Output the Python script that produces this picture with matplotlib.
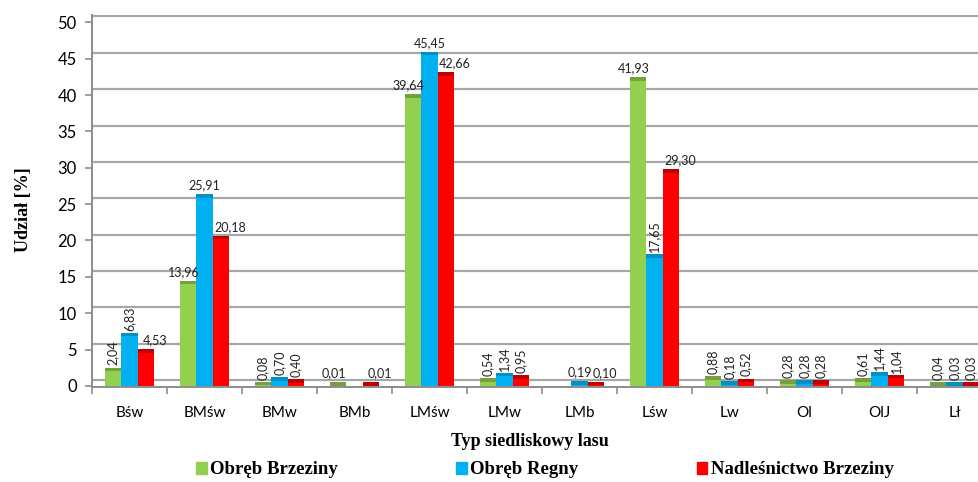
import numpy as np
import matplotlib.pyplot as plt
from matplotlib.patches import Patch

categories = ["Bśw", "BMśw", "BMw", "BMb", "LMśw", "LMw", "LMb", "Lśw", "Lw", "Ol", "OlJ", "Lł"]
series_names = ["Obręb Brzeziny", "Obręb Regny", "Nadleśnictwo Brzeziny"]
brzeziny = [2.04, 13.96, 0.08, 0.01, 39.64, 0.54, np.nan, 41.93, 0.88, 0.28, 0.61, 0.04]
regny = [6.83, 25.91, 0.70, np.nan, 45.45, 1.34, 0.19, 17.65, 0.18, 0.28, 1.44, 0.03]
nadlesnictwo = [4.53, 20.18, 0.40, 0.01, 42.66, 0.95, 0.10, 29.30, 0.52, 0.28, 1.04, 0.03]
y_ticks = [0, 5, 10, 15, 20, 25, 30, 35, 40, 45, 50]

series = [brzeziny, regny, nadlesnictwo]
colors = ["#92D050", "#00B0F0", "#FF0000"]
tops = ["#76A03C", "#0090C8", "#C00000"]
# which value labels Excel drew vertically
rotated = [
    [1, 0, 1, 0, 0, 1, 0, 0, 1, 1, 1, 1],
    [1, 0, 1, 0, 0, 1, 0, 1, 1, 1, 1, 1],
    [0, 0, 1, 0, 0, 1, 0, 0, 1, 1, 1, 1],
]
label_dx = [-4, 0, 9]  # px shift of horizontal labels

fig = plt.figure(figsize=(9.79, 4.82), dpi=100)
ax = fig.add_axes([92 / 979, 95 / 482, 900 / 979, 372 / 482])

x = np.arange(len(categories))
w = 0.222
ax.set_xlim(-0.5, len(categories) - 0.5)
ax.set_ylim(-0.14, 51.0)

# back-wall gridlines sit a bit above the front tick positions
for t in y_ticks:
    ax.axhline(t + 0.8, color="#A6A6A6", lw=1.6, zorder=0)

for i, vals in enumerate(series):
    v = np.array(vals, dtype=float)
    xs = x + (i - 1) * w
    ax.bar(xs, v, width=w, color=colors[i], zorder=2, linewidth=0)
    ax.bar(xs, np.where(np.isnan(v), np.nan, 0.5), bottom=v, width=w,
           color=tops[i], zorder=2, linewidth=0)
    for j, val in enumerate(v):
        if np.isnan(val):
            continue
        txt = f"{val:.2f}".replace(".", ",")
        if rotated[i][j]:
            ax.annotate(txt, (xs[j], val + 0.5), xytext=(0, 1.5), textcoords="offset points",
                        rotation=90, ha="center", va="bottom", fontsize=9,
                        family="Lato", color="#222222", zorder=3)
        else:
            ax.annotate(txt, (xs[j], val + 0.5), xytext=(label_dx[i] * 0.72, 2),
                        textcoords="offset points", ha="center", va="bottom",
                        fontsize=9, family="Lato", color="#222222", zorder=3)

ax.set_yticks(y_ticks)
ax.set_xticks(x)
ax.set_xticklabels(categories, family="Lato", fontsize=11)
ax.set_xticks(np.arange(-0.5, len(categories)), minor=True)
ax.tick_params(axis="x", which="major", length=0, pad=14)
ax.tick_params(axis="x", which="minor", length=5, color="#8C8C8C", width=1.2)
ax.tick_params(axis="y", length=5, color="#8C8C8C", width=1.2, labelsize=12, pad=6)
for lab in ax.get_yticklabels():
    lab.set_family("Lato")

for s in ["top", "right"]:
    ax.spines[s].set_visible(False)
for s in ["left", "bottom"]:
    ax.spines[s].set_color("#8C8C8C")
    ax.spines[s].set_linewidth(1.4)

fig.text(24 / 979, 1 - 210 / 482, "Udział [%]", rotation=90, ha="center", va="center",
         family="Liberation Serif", fontweight="bold", fontsize=13)
fig.text(530 / 979, 1 - 442 / 482, "Typ siedliskowy lasu", ha="center", va="center",
         family="Liberation Serif", fontweight="bold", fontsize=13)

handles = [Patch(color=c) for c in colors]
fig.legend(handles, series_names, loc="center", bbox_to_anchor=(545 / 979, 1 - 470 / 482),
           ncol=3, frameon=False, handlelength=0.55, handleheight=0.55, handletextpad=0.2,
           columnspacing=6.3, prop={"family": "Liberation Serif", "weight": "bold", "size": 13.5})

fig.savefig("out.png", dpi=100)
